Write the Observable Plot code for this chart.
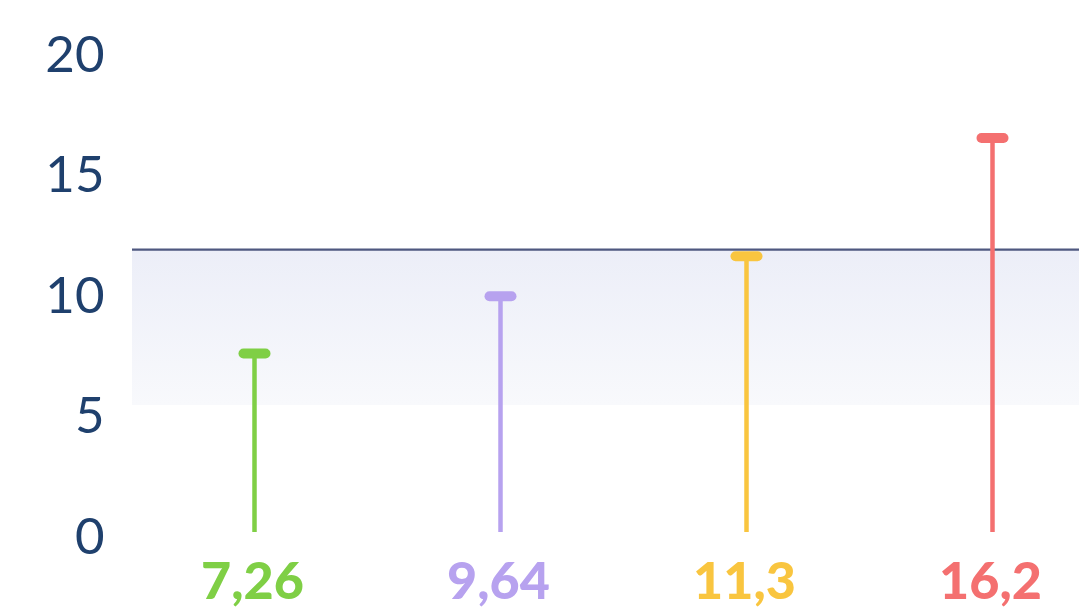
<!DOCTYPE html>
<html>
<head>
<meta charset="utf-8">
<script src="https://cdn.jsdelivr.net/npm/d3@7"></script>
<script src="https://cdn.jsdelivr.net/npm/@observablehq/plot@0.6"></script>
<style>
  html, body { margin: 0; padding: 0; background: #ffffff; }
  #chart svg { display: block; }
</style>
</head>
<body>
<div id="chart"></div>
<script>
// Data
const categories = ["A", "B", "C", "D"];
const values = [7.26, 9.64, 11.3, 16.2];
const valueLabels = ["7,26", "9,64", "11,3", "16,2"];
const colors = ["#7fcf45", "#b7a2ef", "#f9c53f", "#f47070"];
const yTicks = [0, 5, 10, 15, 20];
const referenceLine = 11.74;
const bandLow = 5.27;

const data = categories.map((c, i) => ({
  cat: c, value: values[i], label: valueLabels[i], color: colors[i]
}));

const capSymbol = {
  draw(context, size) {
    context.moveTo(-11, 0);
    context.lineTo(11, 0);
  }
};

const defs = () => {
  const d = d3.create("svg:defs");
  const g = d.append("linearGradient")
    .attr("id", "bandGrad")
    .attr("x1", 0).attr("y1", 0).attr("x2", 0).attr("y2", 1);
  g.append("stop").attr("offset", "0%").attr("stop-color", "#eceef8");
  g.append("stop").attr("offset", "100%").attr("stop-color", "#f8f9fc");
  return d.node();
};

const chart = Plot.plot({
  width: 1079,
  height: 609,
  marginLeft: 132,
  marginRight: 0,
  marginTop: 50,
  marginBottom: 77,
  style: { background: "#ffffff", overflow: "visible" },
  x: { type: "point", domain: categories, padding: 0.419, align: 0.585, axis: null },
  y: { domain: [0, 20], axis: null },
  marks: [
    defs,
    Plot.rectY([{ lo: bandLow, hi: referenceLine }], {
      y1: "lo", y2: "hi", fill: "url(#bandGrad)"
    }),
    Plot.ruleY([referenceLine], { stroke: "#4f5880", strokeWidth: 2.2 }),
    Plot.ruleX(data, {
      x: "cat", y1: 0, y2: "value", stroke: "color", strokeWidth: 4.5
    }),
    Plot.dot(data, {
      x: "cat", y: "value", symbol: capSymbol, stroke: "color", fill: "none",
      strokeWidth: 10, strokeLinecap: "round", r: 5, dy: -4
    }),
    Plot.text(data, {
      x: "cat", y: 0, text: "label", fill: "color", dy: 50, dx: -2,
      fontSize: 52, fontWeight: 900, fontFamily: "Lato, 'Open Sans', sans-serif",
      textAnchor: "middle", lineAnchor: "middle"
    }),
    Plot.axisY(yTicks, {
      tickSize: 0, tickPadding: 0, dx: -28, dy: 5, fontSize: 51,
      fontFamily: "Lato, 'Open Sans', sans-serif", fontWeight: 400,
      fill: "#1f406d", label: null, tickFormat: d => String(d)
    })
  ]
});

document.getElementById("chart").appendChild(chart);
</script>
</body>
</html>
